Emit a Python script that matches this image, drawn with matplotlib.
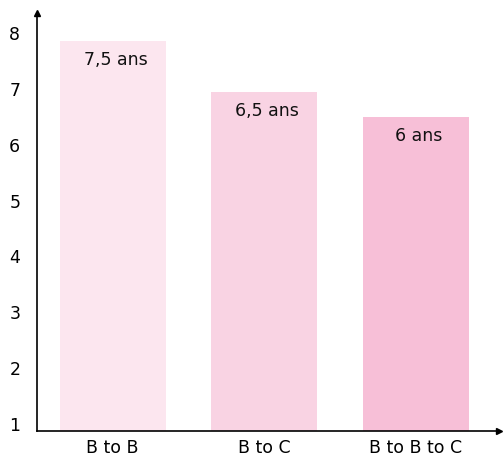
import matplotlib
matplotlib.use("Agg")
import matplotlib.pyplot as plt

categories = ["B to B", "B to C", "B to B to C"]
values = [7.86, 6.94, 6.50]
bar_labels = ["7,5 ans", "6,5 ans", "6 ans"]
colors = ["#FCE6EF", "#F9D3E3", "#F7BFD7"]
yticks = [1, 2, 3, 4, 5, 6, 7, 8]

plt.rcParams["font.family"] = ["DejaVu Sans"]
FS = 12.5

fig = plt.figure(figsize=(5.03, 4.59), dpi=100)
ax = fig.add_axes([37/503, 28/459, (499-37)/503, (446-28)/459])
ax.set_ylim(0.875, 8.36)
ax.set_xlim(-0.5, 2.55)

x = list(range(len(categories)))
ax.bar(x, values, width=0.70, color=colors, zorder=1)
for xi, v, lab in zip(x, values, bar_labels):
    ax.annotate(lab, (xi, v), xytext=(3, -10), textcoords="offset pixels",
                ha="center", va="top", fontsize=FS, color="#111111")

ax.set_xticks(x)
ax.set_xticklabels(categories, fontsize=FS)
ax.set_yticks(yticks)
ax.set_yticklabels([str(t) for t in yticks], fontsize=FS)
ax.tick_params(axis="both", length=0)
ax.tick_params(axis="x", pad=6)
ax.tick_params(axis="y", pad=12)

for s in ["top", "right"]:
    ax.spines[s].set_visible(False)
for s in ["left", "bottom"]:
    ax.spines[s].set_linewidth(1.2)
    ax.spines[s].set_color("black")

ax.plot(1, ax.get_ylim()[0], ">k", transform=ax.get_yaxis_transform(), clip_on=False, markersize=5)
ax.plot(-0.5, 1, "^k", transform=ax.get_xaxis_transform(), clip_on=False, markersize=5)

fig.savefig("out.png", dpi=100)
